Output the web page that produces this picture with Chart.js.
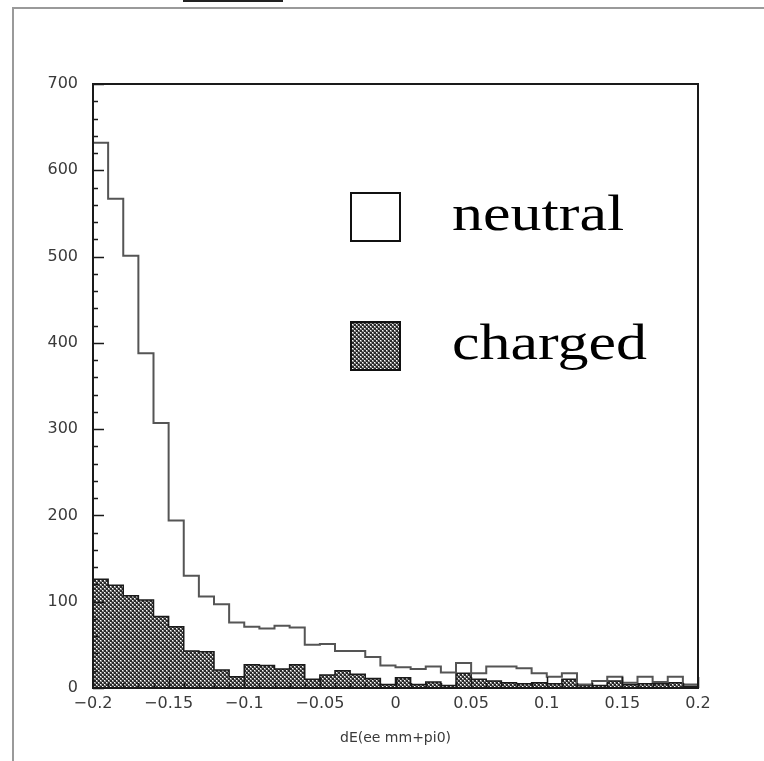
<!DOCTYPE html>
<html>
<head>
<meta charset="utf-8">
<title>dE(ee mm+pi0)</title>
<script src="https://cdn.jsdelivr.net/npm/chart.js@4/dist/chart.umd.min.js"></script>
<style>
  html, body { margin: 0; padding: 0; background: #fff; }
  #wrap { position: relative; width: 764px; height: 761px; overflow: hidden; }
  #c { position: absolute; left: 0; top: 0; }
  .frame { position: absolute; left: 12px; top: 7px; width: 760px; height: 760px;
           border-top: 2px solid #9a9a9a; border-left: 2px solid #9a9a9a; pointer-events: none; }
  .tab { position: absolute; left: 183px; top: 0; width: 100px; height: 2px; background: #222; }
</style>
</head>
<body>
<div id="wrap">
  <canvas id="c" width="764" height="761"></canvas>
  <div class="frame"></div>
  <div class="tab"></div>
</div>
<script>
// bin edges of the dE histogram (40 bins of 0.01)
const binEdges = [-0.2, -0.19, -0.18, -0.17, -0.16, -0.15, -0.14, -0.13, -0.12, -0.11,
  -0.1, -0.09, -0.08, -0.07, -0.06, -0.05, -0.04, -0.03, -0.02, -0.01,
  0, 0.01, 0.02, 0.03, 0.04, 0.05, 0.06, 0.07, 0.08, 0.09,
  0.1, 0.11, 0.12, 0.13, 0.14, 0.15, 0.16, 0.17, 0.18, 0.19, 0.2];

const neutralCounts = [632, 567, 501, 388, 307, 194, 130, 106, 97, 76,
  71, 69, 72, 70, 50, 51, 43, 43, 36, 26,
  24, 22, 25, 18, 29, 17, 25, 25, 23, 17,
  13, 17, 4, 8, 13, 6, 13, 7, 13, 4];

const chargedCounts = [126, 119, 107, 102, 83, 71, 43, 42, 21, 13,
  27, 26, 22, 27, 10, 15, 20, 16, 11, 4,
  12, 4, 7, 3, 17, 10, 8, 6, 5, 6,
  5, 10, 3, 3, 8, 4, 5, 5, 6, 2];

const xTicks = [-0.2, -0.15, -0.1, -0.05, 0, 0.05, 0.1, 0.15, 0.2];
const yMax = 700;
const yMajor = 100;
const yMinor = 20;

// step outline: value at each left edge, closed down to zero at the last edge
function steps(counts) {
  const pts = counts.map((v, i) => ({ x: binEdges[i], y: v }));
  pts.push({ x: binEdges[binEdges.length - 1], y: counts[counts.length - 1] });
  pts.push({ x: binEdges[binEdges.length - 1], y: 0 });
  return pts;
}

// fine dotted cross-hatch used for the charged sample
function hatch() {
  const t = document.createElement('canvas');
  t.width = 4; t.height = 4;
  const g = t.getContext('2d');
  g.fillStyle = '#2a2a2a';
  g.fillRect(0, 0, 4, 4);
  g.fillStyle = '#8a8a8a';
  g.fillRect(0, 0, 2, 2);
  g.fillRect(2, 2, 2, 2);
  g.fillStyle = '#ffffff';
  g.fillRect(0, 0, 1, 1);
  g.fillRect(2, 2, 1, 1);
  return g.createPattern(t, 'repeat');
}
const hatchFill = hatch();

function fmt(v) {
  const s = String(Number(v.toFixed(2)));
  return s.replace('-', '\u2212');
}

// frame around the plot plus inward tick marks
const frameTicks = {
  id: 'frameTicks',
  afterDatasetsDraw(chart) {
    const { ctx, chartArea: a, scales: { x, y } } = chart;
    ctx.save();
    ctx.strokeStyle = '#1a1a1a';
    ctx.lineWidth = 1.5;
    ctx.beginPath();
    for (let v = 0; v <= yMax; v += yMinor) {
      const py = Math.round(y.getPixelForValue(v)) + 0.5;
      const len = v % yMajor === 0 ? 11 : 5;
      ctx.moveTo(a.left, py);
      ctx.lineTo(a.left + len, py);
    }
    binEdges.forEach((e, i) => {
      const px = Math.round(x.getPixelForValue(e)) + 0.5;
      const len = i % 5 === 0 ? 11 : 5;
      ctx.moveTo(px, a.bottom);
      ctx.lineTo(px, a.bottom - len);
    });
    ctx.stroke();
    ctx.lineWidth = 2;
    ctx.strokeRect(a.left, a.top, a.right - a.left, a.bottom - a.top);
    ctx.restore();
  }
};

// big legend inside the plot
const bigLegend = {
  id: 'bigLegend',
  afterDraw(chart) {
    const { ctx } = chart;
    const entries = [
      { text: 'neutral', fill: '#ffffff', top: 193 },
      { text: 'charged', fill: hatchFill, top: 322 }
    ];
    ctx.save();
    entries.forEach(en => {
      ctx.fillStyle = en.fill;
      ctx.fillRect(351, en.top, 49, 48);
      ctx.strokeStyle = '#111';
      ctx.lineWidth = 2;
      ctx.strokeRect(351, en.top, 49, 48);
      ctx.save();
      ctx.translate(452, en.top + 37);
      ctx.scale(1.24, 1);
      ctx.fillStyle = '#000';
      ctx.font = '50px "Liberation Serif", "Times New Roman", serif';
      ctx.textBaseline = 'alphabetic';
      ctx.fillText(en.text, 0, 0);
      ctx.restore();
    });
    ctx.restore();
  }
};

const tickFont = { family: "'DejaVu Sans', sans-serif", size: 16 };

new Chart(document.getElementById('c').getContext('2d'), {
  type: 'line',
  data: {
    datasets: [
      {
        label: 'neutral',
        data: steps(neutralCounts),
        stepped: true,
        borderColor: '#555555',
        borderWidth: 2,
        fill: false,
        pointRadius: 0
      },
      {
        label: 'charged',
        data: steps(chargedCounts),
        stepped: true,
        borderColor: '#1a1a1a',
        borderWidth: 1.5,
        backgroundColor: hatchFill,
        fill: 'origin',
        pointRadius: 0
      }
    ]
  },
  options: {
    responsive: false,
    animation: false,
    layout: { padding: { left: 0, top: 84, right: 66, bottom: 0 } },
    scales: {
      x: {
        type: 'linear',
        min: -0.2,
        max: 0.2,
        grid: { display: false, drawTicks: false },
        border: { display: false },
        afterBuildTicks(scale) {
          scale.ticks = xTicks.map(v => ({ value: v }));
        },
        afterFit(scale) { scale.height = 73; },
        ticks: {
          padding: 6,
          color: '#3a3a3a',
          font: tickFont,
          maxRotation: 0,
          callback: v => fmt(v)
        },
        title: {
          display: true,
          text: 'dE(ee mm+pi0)',
          color: '#3a3a3a',
          font: { family: "'DejaVu Sans', sans-serif", size: 14 },
          padding: { top: 0, bottom: 14 }
        }
      },
      y: {
        min: 0,
        max: yMax,
        grid: { display: false, drawTicks: false },
        border: { display: false },
        afterFit(scale) { scale.width = 93; },
        ticks: {
          stepSize: yMajor,
          padding: 15,
          color: '#3a3a3a',
          font: tickFont
        }
      }
    },
    plugins: {
      legend: { display: false },
      tooltip: { enabled: false }
    }
  },
  plugins: [frameTicks, bigLegend]
});
</script>
</body>
</html>
